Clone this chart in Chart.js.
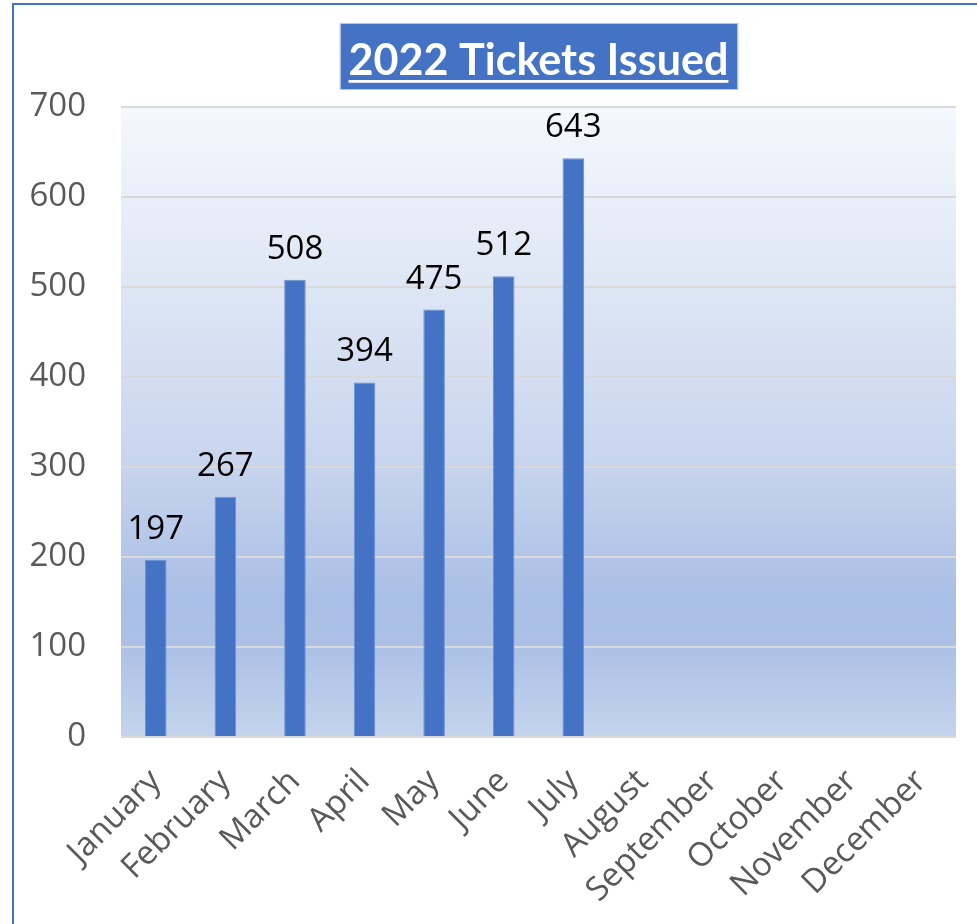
<!DOCTYPE html>
<html>
<head>
<meta charset="utf-8">
<script src="https://cdn.jsdelivr.net/npm/chart.js@4/dist/chart.umd.min.js"></script>
<style>
  html, body { margin: 0; padding: 0; background: #ffffff; overflow: hidden; }
  #frame { position: absolute; left: 12px; top: 3px; width: 1100px; height: 1100px;
           border-top: 2px solid #4472C4; border-left: 2px solid #4472C4; box-sizing: border-box; }
  #wrap { position: absolute; left: 0; top: 0; width: 977px; height: 924px; }
</style>
</head>
<body>
<div id="frame"></div>
<div id="wrap"><canvas id="c" width="977" height="924"></canvas></div>
<script>
// ---- data ----
const titleText = "2022 Tickets Issued";
const months = ["January", "February", "March", "April", "May", "June", "July",
                "August", "September", "October", "November", "December"];
const tickets = [197, 267, 508, 394, 475, 512, 643, null, null, null, null, null];
const yTicks = [0, 100, 200, 300, 400, 500, 600, 700];

// ---- styles ----
const BAR_BLUE = "#4472C4";
const AXIS_GRAY = "#595959";
const GRID_GRAY = "#D9D9D9";
const AXIS_FONT = "'Open Sans', 'Liberation Sans', sans-serif";
const TITLE_FONT = "Lato, 'Open Sans', sans-serif";

// fit title font so the text spans ~380px
const mctx = document.createElement("canvas").getContext("2d");
mctx.font = "bold 44px " + TITLE_FONT;
const titleSize = Math.round(44 * 380 / mctx.measureText(titleText).width * 10) / 10;

const plotBg = {
  id: "plotBg",
  beforeDraw(chart) {
    const { ctx, chartArea: a } = chart;
    const g = ctx.createLinearGradient(0, a.top, 0, a.bottom);
    g.addColorStop(0, "#F5F8FD");
    g.addColorStop(0.55, "#C9D6EE");
    g.addColorStop(0.78, "#AABFE5");
    g.addColorStop(0.86, "#ADC1E6");
    g.addColorStop(1, "#C4D4ED");
    ctx.save();
    ctx.fillStyle = g;
    ctx.fillRect(a.left, a.top, a.right - a.left, a.bottom - a.top);
    ctx.restore();
    // title box
    const tb = chart.titleBlock;
    if (tb) {
      ctx.save();
      ctx.font = "bold " + titleSize + "px " + TITLE_FONT;
      const w = ctx.measureText(titleText).width;
      const cx = (tb.left + tb.right) / 2;
      ctx.fillStyle = "#4472C4";
      ctx.fillRect(cx - w / 2 - 8, 24, w + 17, 65);
      ctx.strokeStyle = "#B4C7E7";
      ctx.lineWidth = 1;
      ctx.strokeRect(cx - w / 2 - 8.5, 23.5, w + 18, 66);
      ctx.restore();
    }
  },
  afterDraw(chart) {
    const tb = chart.titleBlock;
    if (!tb) return;
    const ctx = chart.ctx;
    ctx.save();
    ctx.font = "bold " + titleSize + "px " + TITLE_FONT;
    const w = ctx.measureText(titleText).width;
    const cx = (tb.left + tb.right) / 2;
    ctx.fillStyle = "#ffffff";
    ctx.fillRect(cx - w / 2, 80, w, 2.8);
    ctx.restore();
  }
};

const valueLabels = {
  id: "valueLabels",
  afterDatasetsDraw(chart) {
    const ctx = chart.ctx;
    const meta = chart.getDatasetMeta(0);
    ctx.save();
    ctx.font = "33px " + AXIS_FONT;
    ctx.fillStyle = "#000000";
    ctx.textAlign = "center";
    ctx.textBaseline = "alphabetic";
    meta.data.forEach((el, i) => {
      const v = chart.data.datasets[0].data[i];
      if (v === null || v === undefined) return;
      ctx.fillText(String(v), el.x, el.y - 21);
    });
    ctx.restore();
  }
};

new Chart(document.getElementById("c"), {
  type: "bar",
  data: {
    labels: months,
    datasets: [{
      label: "Tickets",
      data: tickets,
      backgroundColor: BAR_BLUE,
      borderColor: "#6E90D0",
      borderWidth: 1,
      categoryPercentage: 1,
      barPercentage: 0.31
    }]
  },
  options: {
    responsive: false,
    animation: false,
    devicePixelRatio: 1,
    layout: { padding: { left: 0, right: 21, top: 0, bottom: 0 } },
    plugins: {
      legend: { display: false },
      tooltip: { enabled: false },
      title: {
        display: true,
        text: titleText,
        fullSize: false,
        color: "#ffffff",
        font: { family: TITLE_FONT, size: titleSize, weight: "bold", lineHeight: 1.2 },
        padding: { top: 61 - 0.6 * titleSize, bottom: 46 - 0.6 * titleSize }
      }
    },
    scales: {
      x: {
        grid: { display: false, drawTicks: false },
        border: { display: false },
        ticks: {
          color: AXIS_GRAY,
          font: { family: AXIS_FONT, size: 33 },
          maxRotation: 45,
          minRotation: 45,
          autoSkip: false,
          padding: 25
        },
        afterFit(scale) { scale.height = 187; }
      },
      y: {
        min: 0,
        max: 700,
        afterBuildTicks(scale) { scale.ticks = yTicks.map(v => ({ value: v })); },
        grid: { color: GRID_GRAY, lineWidth: 2, drawTicks: false },
        border: { display: false },
        ticks: {
          color: AXIS_GRAY,
          font: { family: AXIS_FONT, size: 33 },
          padding: 35
        },
        afterFit(scale) { scale.width = 121; }
      }
    }
  },
  plugins: [plotBg, valueLabels]
});
</script>
</body>
</html>
